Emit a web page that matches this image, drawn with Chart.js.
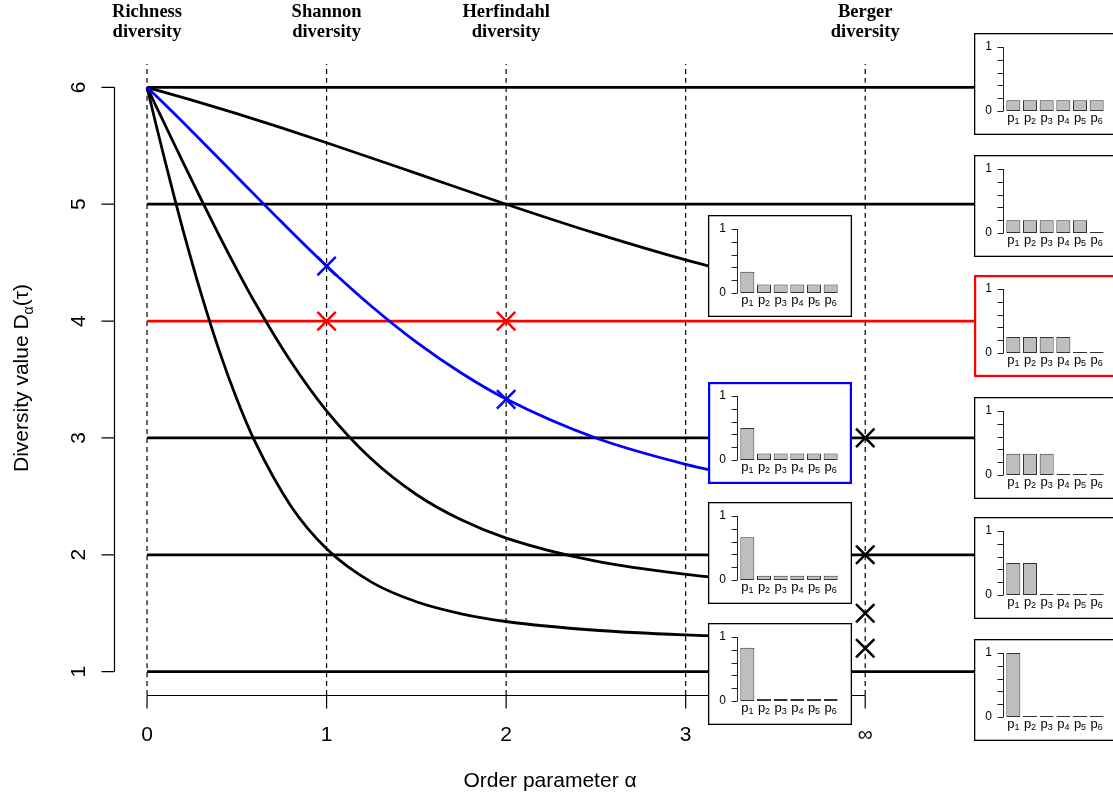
<!DOCTYPE html>
<html>
<head>
<meta charset="utf-8">
<title>Diversity profiles</title>
<script src="https://cdn.jsdelivr.net/npm/chart.js@4.4.1/dist/chart.umd.min.js"></script>
<style>
	html, body { margin: 0; padding: 0; background: #fff; }
	#wrap { position: relative; width: 1113px; height: 796px; overflow: hidden; }
	#main { position: absolute; left: 0; top: 0; }
	.inset { position: absolute; }
</style>
</head>
<body>
<div id="wrap">
	<canvas id="main" width="1113" height="796"></canvas>
</div>
<script>
// axis ticks (∞ is placed at position 4)
const alphaTickPos = [0, 1, 2, 3, 4];
const alphaTickLabels = ["0", "1", "2", "3", "∞"];
const diversityTicks = [1, 2, 3, 4, 5, 6];
const headerPos = [0, 1, 2, 4];
const headerLabels = [
	["Richness", "diversity"],
	["Shannon", "diversity"],
	["Herfindahl", "diversity"],
	["Berger", "diversity"],
];

// flat profiles (uniform distributions)
const levelsBlack = [6, 5, 3, 2, 1];
const levelRed = 4;
const levelEnd = 4.61;

// decreasing profiles
const alphaA = [0, 0.25, 0.5, 0.75, 1, 1.5, 2, 2.5, 3, 3.5];
const divA = [6, 5.891, 5.775, 5.653, 5.526, 5.264, 5.0, 4.75, 4.523, 4.325];

const alphaB = [0, 0.1, 0.25, 0.5, 0.75, 1, 1.25, 1.5, 1.75, 2, 2.5, 3, 3.25];
const divB = [6, 5.853, 5.625, 5.236, 4.847, 4.472, 4.127, 3.82, 3.556, 3.333, 2.999, 2.774, 2.69];

const alphaC = [0, 0.05, 0.1, 0.2, 0.3, 0.4, 0.5, 0.6, 0.8, 1, 1.25, 1.5, 1.75, 2, 2.5, 3, 3.5];
const divC = [6, 5.84, 5.68, 5.36, 5.045, 4.737, 4.442, 4.161, 3.656, 3.232, 2.819, 2.516, 2.299, 2.143, 1.945, 1.833, 1.763];

const alphaD = [0, 0.05, 0.1, 0.15, 0.2, 0.3, 0.4, 0.5, 0.6, 0.8, 1, 1.25, 1.5, 1.75, 2, 2.5, 3, 3.5];
const divD = [6, 5.682, 5.372, 5.071, 4.781, 4.241, 3.756, 3.333, 2.972, 2.42, 2.052, 1.766, 1.598, 1.495, 1.429, 1.354, 1.314, 1.291];

// cross markers
const redMarkX = [1, 2];
const redMarkY = [4, 4];
const blueMarkX = [1, 2];
const blueMarkY = [4.47, 3.33];
const infMarkY = [3, 2, 1.5, 1.2];

// inset bar charts
const pLabels = ["p1", "p2", "p3", "p4", "p5", "p6"];
const insetTicks = [0, 0.2, 0.4, 0.6, 0.8, 1];
const sharesSide = [
	[0.167, 0.167, 0.167, 0.167, 0.167, 0.167],
	[0.2, 0.2, 0.2, 0.2, 0.2, 0],
	[0.25, 0.25, 0.25, 0.25, 0, 0],
	[0.333, 0.333, 0.333, 0, 0, 0],
	[0.5, 0.5, 0, 0, 0, 0],
	[1, 0, 0, 0, 0, 0],
];
const sharesMid = [
	[0.333, 0.133, 0.133, 0.133, 0.133, 0.133],
	[0.5, 0.1, 0.1, 0.1, 0.1, 0.1],
	[0.667, 0.067, 0.067, 0.067, 0.067, 0.067],
	[0.833, 0.033, 0.033, 0.033, 0.033, 0.033],
];

const SANS = "'Liberation Sans', Arial, sans-serif";
const SERIF = "'Liberation Serif', 'Times New Roman', serif";

const pts = (xs, ys) => xs.map((x, i) => ({ x, y: ys[i] }));

function lineSet(data, color, width, order, dash) {
	return {
		data,
		borderColor: color,
		borderWidth: width,
		borderDash: dash || [],
		pointRadius: 0,
		fill: false,
		order,
		cubicInterpolationMode: "monotone",
	};
}

function markSet(data, color) {
	return {
		data,
		showLine: false,
		pointStyle: "crossRot",
		pointRadius: 13,
		pointBorderWidth: 2.5,
		pointBorderColor: color,
		pointBackgroundColor: color,
		order: 0,
	};
}

const datasets = [];
alphaTickPos.forEach((p) =>
	datasets.push(lineSet([{ x: p, y: 0.8 }, { x: p, y: 6.2 }], "#000", 1.2, 4, [5, 4]))
);
levelsBlack.forEach((lv) =>
	datasets.push(lineSet([{ x: 0, y: lv }, { x: levelEnd, y: lv }], "#000", 2.8, 3))
);
datasets.push(lineSet([{ x: 0, y: levelRed }, { x: levelEnd, y: levelRed }], "#ff0000", 2.8, 3));
datasets.push(lineSet(pts(alphaA, divA), "#000", 2.8, 2));
datasets.push(lineSet(pts(alphaC, divC), "#000", 2.8, 2));
datasets.push(lineSet(pts(alphaD, divD), "#000", 2.8, 2));
datasets.push(lineSet(pts(alphaB, divB), "#0000ff", 2.8, 1));
datasets.push(markSet(pts(redMarkX, redMarkY), "#ff0000"));
datasets.push(markSet(pts(blueMarkX, blueMarkY), "#0000ff"));
datasets.push(markSet(infMarkY.map((v) => ({ x: alphaTickPos[4], y: v })), "#000"));

const axesDecor = {
	id: "axesDecor",
	afterDraw(chart) {
		const { ctx, chartArea } = chart;
		const xs = chart.scales.x;
		const ys = chart.scales.y;
		ctx.save();
		ctx.strokeStyle = "#000";
		ctx.fillStyle = "#000";
		ctx.lineWidth = 1.2;

		// y axis
		const ax = Math.round(chartArea.left) + 0.5;
		ctx.beginPath();
		ctx.moveTo(ax, ys.getPixelForValue(diversityTicks[0]));
		ctx.lineTo(ax, ys.getPixelForValue(diversityTicks[diversityTicks.length - 1]));
		diversityTicks.forEach((t) => {
			const py = ys.getPixelForValue(t);
			ctx.moveTo(ax - 13, py);
			ctx.lineTo(ax, py);
		});
		ctx.stroke();
		ctx.font = "21px " + SANS;
		ctx.textAlign = "center";
		ctx.textBaseline = "alphabetic";
		diversityTicks.forEach((t) => {
			ctx.save();
			ctx.translate(85, ys.getPixelForValue(t));
			ctx.rotate(-Math.PI / 2);
			ctx.fillText(String(t), 0, 0);
			ctx.restore();
		});

		// x axis
		const ay = Math.round(chartArea.bottom) + 0.5;
		ctx.beginPath();
		ctx.moveTo(xs.getPixelForValue(alphaTickPos[0]), ay);
		ctx.lineTo(xs.getPixelForValue(alphaTickPos[alphaTickPos.length - 1]), ay);
		alphaTickPos.forEach((t) => {
			const px = xs.getPixelForValue(t);
			ctx.moveTo(px, ay);
			ctx.lineTo(px, ay + 13);
		});
		ctx.stroke();
		alphaTickPos.forEach((t, i) => {
			ctx.fillText(alphaTickLabels[i], xs.getPixelForValue(t), 741);
		});

		// axis titles
		ctx.fillText("Order parameter α", 550, 787);
		ctx.save();
		ctx.translate(28, 378);
		ctx.rotate(-Math.PI / 2);
		const partA = "Diversity value D";
		const partB = "α";
		const partC = "(τ)";
		ctx.font = "21px " + SANS;
		const wA = ctx.measureText(partA).width;
		const wC = ctx.measureText(partC).width;
		ctx.font = "14px " + SANS;
		const wB = ctx.measureText(partB).width;
		let cx = -(wA + wB + wC) / 2;
		ctx.textAlign = "left";
		ctx.font = "21px " + SANS;
		ctx.fillText(partA, cx, 0);
		cx += wA;
		ctx.font = "14px " + SANS;
		ctx.fillText(partB, cx, 5);
		cx += wB;
		ctx.font = "21px " + SANS;
		ctx.fillText(partC, cx, 0);
		ctx.restore();

		// headers
		ctx.font = "bold 18.5px " + SERIF;
		ctx.textAlign = "center";
		headerPos.forEach((p, i) => {
			const px = xs.getPixelForValue(p);
			ctx.fillText(headerLabels[i][0], px, 17);
			ctx.fillText(headerLabels[i][1], px, 37);
		});
		ctx.restore();
	},
};

// right padding is kept above the point overflow so the x scale stays exact
new Chart(document.getElementById("main"), {
	type: "line",
	data: { datasets },
	options: {
		responsive: false,
		animation: false,
		events: [],
		layout: { padding: { left: 114, right: 30, top: 64, bottom: 101 } },
		plugins: { legend: { display: false }, tooltip: { enabled: false } },
		scales: {
			x: { type: "linear", display: false, min: -0.184, max: 5.213 },
			y: { type: "linear", display: false, min: 0.8, max: 6.2 },
		},
	},
	plugins: [axesDecor],
});

// inset boxes: layout only
const insetLayout = [
	{ left: 974, top: 33, shares: sharesSide[0], color: "#000", lw: 1.3 },
	{ left: 974, top: 155, shares: sharesSide[1], color: "#000", lw: 1.3 },
	{ left: 974, top: 275, shares: sharesSide[2], color: "#ff0000", lw: 2.2 },
	{ left: 974, top: 397, shares: sharesSide[3], color: "#000", lw: 1.3 },
	{ left: 974, top: 517, shares: sharesSide[4], color: "#000", lw: 1.3 },
	{ left: 974, top: 639, shares: sharesSide[5], color: "#000", lw: 1.3 },
	{ left: 708, top: 215, shares: sharesMid[0], color: "#000", lw: 1.3 },
	{ left: 708, top: 382, shares: sharesMid[1], color: "#0000ff", lw: 2.2 },
	{ left: 708, top: 502, shares: sharesMid[2], color: "#000", lw: 1.3 },
	{ left: 708, top: 623, shares: sharesMid[3], color: "#000", lw: 1.3 },
];

const insetDecor = {
	id: "insetDecor",
	beforeDraw(chart) {
		const { ctx, width, height } = chart;
		ctx.save();
		ctx.fillStyle = "#fff";
		ctx.fillRect(0, 0, width, height);
		ctx.restore();
	},
	afterDraw(chart) {
		const { ctx, width, height, chartArea } = chart;
		const box = chart.options.plugins.insetDecor;
		const xs = chart.scales.x;
		const ys = chart.scales.y;
		ctx.save();
		// frame
		ctx.strokeStyle = box.color;
		ctx.lineWidth = box.lw;
		ctx.strokeRect(box.lw / 2, box.lw / 2, width - box.lw, height - box.lw);
		// y axis
		const ax = Math.round(chartArea.left - 2) + 0.5;
		ctx.strokeStyle = "#222";
		ctx.lineWidth = 1;
		ctx.beginPath();
		ctx.moveTo(ax, ys.getPixelForValue(0));
		ctx.lineTo(ax, ys.getPixelForValue(1));
		insetTicks.forEach((t) => {
			const py = Math.round(ys.getPixelForValue(t)) + 0.5;
			ctx.moveTo(ax - 6, py);
			ctx.lineTo(ax, py);
		});
		ctx.stroke();
		ctx.fillStyle = "#000";
		ctx.font = "12px " + SANS;
		ctx.textAlign = "center";
		ctx.textBaseline = "middle";
		ctx.fillText("0", ax - 15, ys.getPixelForValue(0));
		ctx.fillText("1", ax - 15, ys.getPixelForValue(1));
		// p labels with subscripts
		ctx.textAlign = "left";
		ctx.textBaseline = "alphabetic";
		const by = chartArea.bottom + 11;
		chart.data.labels.forEach((lab, i) => {
			const main = lab.slice(0, 1);
			const sub = lab.slice(1);
			ctx.font = "13px " + SANS;
			const w1 = ctx.measureText(main).width;
			ctx.font = "9px " + SANS;
			const w2 = ctx.measureText(sub).width;
			const x0 = xs.getPixelForValue(i) - (w1 + w2) / 2;
			ctx.font = "13px " + SANS;
			ctx.fillText(main, x0, by);
			ctx.font = "9px " + SANS;
			ctx.fillText(sub, x0 + w1, by + 2);
		});
		ctx.restore();
	},
};

const wrap = document.getElementById("wrap");
insetLayout.forEach((box) => {
	const cv = document.createElement("canvas");
	cv.className = "inset";
	cv.width = 144;
	cv.height = 102;
	cv.style.left = box.left + "px";
	cv.style.top = box.top + "px";
	wrap.appendChild(cv);
	new Chart(cv, {
		type: "bar",
		data: {
			labels: pLabels,
			datasets: [
				{
					data: box.shares,
					backgroundColor: "#bebebe",
					borderColor: "#333",
					borderWidth: 1,
					borderSkipped: false,
					minBarLength: 1,
					barPercentage: 0.84,
					categoryPercentage: 1,
				},
			],
		},
		options: {
			responsive: false,
			animation: false,
			events: [],
			layout: { padding: { left: 31, right: 13, top: 14, bottom: 24 } },
			plugins: {
				legend: { display: false },
				tooltip: { enabled: false },
				insetDecor: { color: box.color, lw: box.lw },
			},
			scales: {
				x: { display: false },
				y: { display: false, min: 0, max: 1 },
			},
		},
		plugins: [insetDecor],
	});
});
</script>
</body>
</html>
